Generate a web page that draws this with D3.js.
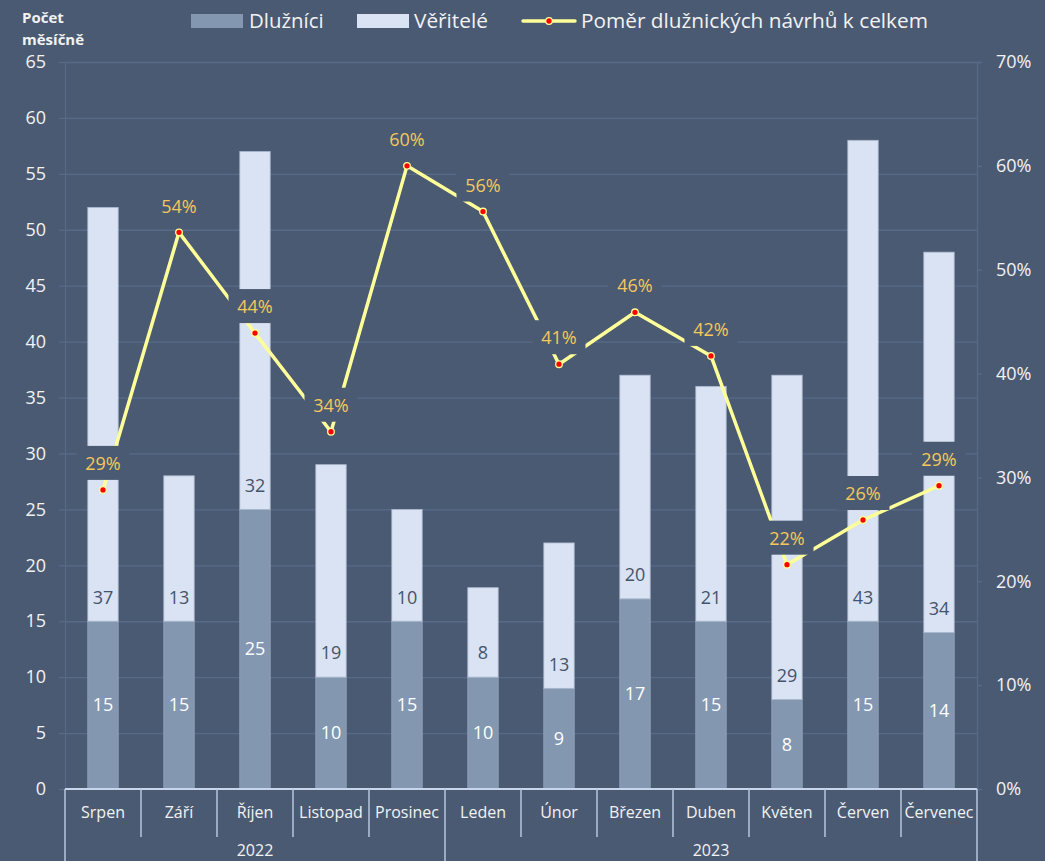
<!DOCTYPE html>
<html><head><meta charset="utf-8">
<script src="https://cdn.jsdelivr.net/npm/d3@7/dist/d3.min.js"></script>
<style>
html,body{margin:0;padding:0;background:#4a5a72;}
svg{display:block;font-family:"Open Sans",sans-serif;}
</style></head>
<body><svg id="c" width="1045" height="861"></svg>
<script>
const months = ["Srpen","Září","Říjen","Listopad","Prosinec","Leden","Únor","Březen","Duben","Květen","Červen","Červenec"];
const years = ["2022","2022","2022","2022","2022","2023","2023","2023","2023","2023","2023","2023"];
const dluznici = [15,15,25,10,15,10,9,17,15,8,15,14];
const veritele = [37,13,32,19,10,8,13,20,21,29,43,34];
const pomer = [0.288,0.536,0.439,0.344,0.600,0.556,0.409,0.459,0.417,0.216,0.259,0.292];
const leftTicks = [0,5,10,15,20,25,30,35,40,45,50,55,60,65];
const rightTicks = [0,0.1,0.2,0.3,0.4,0.5,0.6,0.7];
const seriesNames = ["Dlužníci","Věřitelé","Poměr dlužnických návrhů k celkem"];

const BG = "#4a5a72", GRID = "#576b88", C1 = "#8497b0", C2 = "#dae3f3", LINE = "#ffff99", GOLD = "#f4c85c", TXT = "#f2f2f2";
const L = 65, R = 977, T = 62, B = 789;

const svg = d3.select("#c");
svg.append("rect").attr("width",1045).attr("height",861).attr("fill",BG);

const x = d3.scaleBand().domain(months).range([L,R]).paddingInner(0.6).paddingOuter(0.3);
const y = d3.scaleLinear().domain([0,65]).range([B,T]);
const y2 = d3.scaleLinear().domain([0,0.7]).range([B,T]);
const step = x.step();
const cx = m => x(m) + x.bandwidth()/2;

// gridlines
const grid = svg.append("g").attr("transform",`translate(${L},0)`)
  .call(d3.axisLeft(y).tickValues(leftTicks.filter(v=>v>0)).tickSize(-(R-L)).tickFormat(""));
grid.select(".domain").remove();
grid.selectAll("line").attr("stroke",GRID).attr("stroke-width",1.3);

// left axis
const ax = svg.append("g").attr("transform",`translate(${L},0)`)
  .call(d3.axisLeft(y).tickValues(leftTicks).tickSize(6).tickPadding(13));
ax.select(".domain").attr("stroke",GRID).attr("stroke-width",1);
ax.selectAll("line").attr("stroke",GRID).attr("stroke-width",1.3);
ax.selectAll("text").attr("fill",TXT).attr("font-size",18).attr("font-family","Open Sans");

// right axis
const ax2 = svg.append("g").attr("transform",`translate(${R},0)`)
  .call(d3.axisRight(y2).tickValues(rightTicks).tickFormat(d3.format(".0%")).tickSize(5).tickPadding(14));
ax2.select(".domain").attr("stroke",GRID).attr("stroke-width",1.3);
ax2.selectAll("line").attr("stroke",GRID).attr("stroke-width",1.3);
ax2.selectAll("text").attr("fill",TXT).attr("font-size",18).attr("font-family","Open Sans");

// bars
const data = months.map((m,i)=>({m, d:dluznici[i], v:veritele[i], p:pomer[i]}));
const bars = svg.append("g");
bars.selectAll(".b1").data(data).join("rect")
  .attr("x",d=>x(d.m)).attr("width",x.bandwidth())
  .attr("y",d=>y(d.d)).attr("height",d=>y(0)-y(d.d))
  .attr("fill",C1).attr("stroke","#95a6bd").attr("stroke-width",0.8);
bars.selectAll(".b2").data(data).join("rect")
  .attr("x",d=>x(d.m)).attr("width",x.bandwidth())
  .attr("y",d=>y(d.d+d.v)).attr("height",d=>y(d.d)-y(d.d+d.v))
  .attr("fill",C2).attr("stroke","#a9b7cc").attr("stroke-width",0.8);

// bar labels
svg.append("g").selectAll("text").data(data).join("text")
  .attr("x",d=>cx(d.m)).attr("y",d=>(y(0)+y(d.d))/2).attr("dy","0.35em")
  .attr("text-anchor","middle").attr("fill","#ffffff").attr("font-size",18)
  .text(d=>d.d);
svg.append("g").selectAll("text").data(data).join("text")
  .attr("x",d=>cx(d.m)).attr("y",d=>y(d.d)-24).attr("dy","0.35em")
  .attr("text-anchor","middle").attr("fill","#44546a").attr("font-size",18)
  .text(d=>d.v);

// line
const line = d3.line().x(d=>cx(d.m)).y(d=>y2(d.p));
svg.append("path").datum(data).attr("d",line).attr("fill","none")
  .attr("stroke",LINE).attr("stroke-width",3.5).attr("stroke-linejoin","round");
svg.append("g").selectAll("circle").data(data).join("circle")
  .attr("cx",d=>cx(d.m)).attr("cy",d=>y2(d.p)).attr("r",3.3)
  .attr("fill","#ff0000").attr("stroke",LINE).attr("stroke-width",1.3);

// line labels with background boxes
const lab = svg.append("g").selectAll("g").data(data).join("g")
  .attr("transform",d=>`translate(${cx(d.m)},${y2(d.p)-27})`);
lab.append("rect").attr("x",-26.5).attr("y",-17).attr("width",53).attr("height",34).attr("fill",BG);
lab.append("text").attr("text-anchor","middle").attr("dy","0.4em")
  .attr("fill",GOLD).attr("font-size",18).text(d=>d3.format(".0%")(d.p));

// x axis (months)
const xa = svg.append("g").attr("transform",`translate(0,${B})`)
  .call(d3.axisBottom(x).tickSize(0).tickPadding(18));
xa.select(".domain").remove();
xa.selectAll("text").attr("fill",TXT).attr("font-size",16).attr("font-family","Open Sans");
svg.append("line").attr("x1",L).attr("x2",R).attr("y1",B).attr("y2",B)
  .attr("stroke","#c9d5ea").attr("stroke-width",2);
// separators
const bounds = d3.range(months.length+1).map(i=>L + i*step);
svg.append("g").selectAll("line").data(bounds).join("line")
  .attr("x1",d=>d).attr("x2",d=>d).attr("y1",B)
  .attr("y2",(d,i)=> (i===0||i===months.length|| (i<months.length && years[i]!==years[i-1])) ? 861 : 837)
  .attr("stroke","#b9c7df").attr("stroke-width",1.5);
// year labels
const yearGroups = d3.groups(months.map((m,i)=>({m,y:years[i]})), d=>d.y);
svg.append("g").selectAll("text").data(yearGroups).join("text")
  .attr("x",g=>(L + months.indexOf(g[1][0].m)*step + L + (months.indexOf(g[1][g[1].length-1].m)+1)*step)/2)
  .attr("y",850).attr("dy","0.35em").attr("text-anchor","middle")
  .attr("fill",TXT).attr("font-size",16).text(g=>g[0]);

// title
svg.append("text").attr("x",22).attr("y",23).attr("fill",TXT).attr("font-size",15).attr("font-weight","bold").text("Počet");
svg.append("text").attr("x",22).attr("y",45).attr("fill",TXT).attr("font-size",15).attr("font-weight","bold").text("měsíčně");

// legend
const lg = svg.append("g");
lg.append("rect").attr("x",191).attr("y",14).attr("width",52).attr("height",14).attr("fill",C1);
lg.append("text").attr("x",249).attr("y",21).attr("dy","0.35em").attr("fill",TXT).attr("font-size",20.4).text(seriesNames[0]);
lg.append("rect").attr("x",357).attr("y",14).attr("width",52).attr("height",14).attr("fill",C2);
lg.append("text").attr("x",414).attr("y",21).attr("dy","0.35em").attr("fill",TXT).attr("font-size",20.8).text(seriesNames[1]);
lg.append("line").attr("x1",523).attr("x2",575).attr("y1",21).attr("y2",21).attr("stroke",LINE).attr("stroke-width",3.5).attr("stroke-linecap","round");
lg.append("circle").attr("cx",549).attr("cy",21).attr("r",3.3).attr("fill","#ff0000").attr("stroke",LINE).attr("stroke-width",1.3);
lg.append("text").attr("x",581).attr("y",21).attr("dy","0.35em").attr("fill",TXT).attr("font-size",20.8).text(seriesNames[2]);
</script></body></html>
